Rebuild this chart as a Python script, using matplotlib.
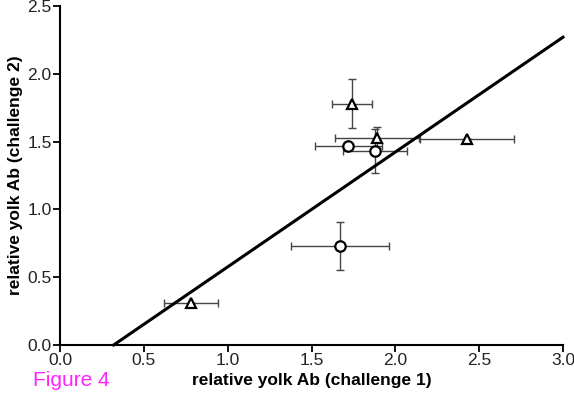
import matplotlib
matplotlib.use("Agg")
import matplotlib.pyplot as plt

plt.rcParams['font.family'] = ['Liberation Sans', 'DejaVu Sans']

# triangles
tri_x = [0.78, 1.74, 1.89, 2.43]
tri_y = [0.31, 1.78, 1.53, 1.52]
tri_xerr = [0.16, 0.12, 0.25, 0.28]
tri_yerr = [0.0, 0.18, 0.08, 0.0]

# circles
circ_x = [1.72, 1.88, 1.67]
circ_y = [1.47, 1.43, 0.73]
circ_xerr = [0.20, 0.19, 0.29]
circ_yerr = [0.0, 0.16, 0.175]

# regression line
line_x = [0.32, 3.0]
line_y = [0.0, 2.27]

fig = plt.figure(figsize=(5.74, 3.96), dpi=100)
ax = fig.add_axes([60 / 574, 1 - 345 / 396, 503 / 574, 339 / 396])

ax.plot(line_x, line_y, color='black', lw=2.2, zorder=2, clip_on=False)

ebar = dict(fmt='none', ecolor='#444444', elinewidth=1.0, capsize=3, capthick=1.0, zorder=1)
ax.errorbar(tri_x, tri_y, xerr=tri_xerr, yerr=tri_yerr, **ebar)
ax.errorbar(circ_x, circ_y, xerr=circ_xerr, yerr=circ_yerr, **ebar)

ax.plot(tri_x, tri_y, linestyle='none', marker='^', markersize=6.5,
        markerfacecolor='white', markeredgecolor='black', markeredgewidth=1.6, zorder=3)
ax.plot(circ_x, circ_y, linestyle='none', marker='o', markersize=7.5,
        markerfacecolor='white', markeredgecolor='black', markeredgewidth=1.6, zorder=3)

ax.set_xlim(0, 3.0)
ax.set_ylim(0, 2.5)
ax.set_xticks([0.0, 0.5, 1.0, 1.5, 2.0, 2.5, 3.0])
ax.set_yticks([0.0, 0.5, 1.0, 1.5, 2.0, 2.5])
ax.xaxis.set_major_formatter(matplotlib.ticker.FormatStrFormatter('%.1f'))
ax.yaxis.set_major_formatter(matplotlib.ticker.FormatStrFormatter('%.1f'))

for s in ['top', 'right']:
    ax.spines[s].set_visible(False)
for s in ['left', 'bottom']:
    ax.spines[s].set_linewidth(1.5)
ax.tick_params(direction='out', length=5, width=1.3, labelsize=12.5,
               colors='black', labelcolor='#222222')
ax.tick_params(axis='x', pad=1)
ax.tick_params(axis='y', pad=1)

ax.set_xlabel('relative yolk Ab (challenge 1)', fontsize=12.5, fontweight='bold', labelpad=3)
ax.set_ylabel('relative yolk Ab (challenge 2)', fontsize=12.5, fontweight='bold', labelpad=3)

fig.text(33 / 574, 1 - 386 / 396, 'Figure 4', color='#ff22ff', fontsize=15)

fig.savefig('out.png', dpi=100)
